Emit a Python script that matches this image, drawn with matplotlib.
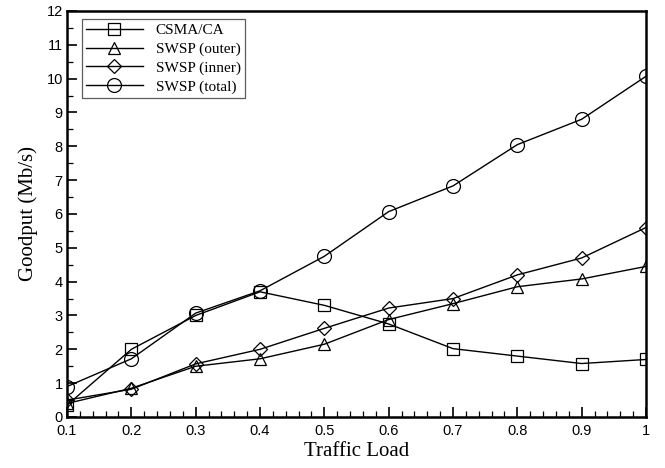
import matplotlib
matplotlib.use("Agg")
import matplotlib.pyplot as plt
from matplotlib.ticker import MultipleLocator

# dados
carga = [0.1, 0.2, 0.3, 0.4, 0.5, 0.6, 0.7, 0.8, 0.9, 1.0]
csma = [0.35, 2.0, 3.0, 3.7, 3.3, 2.75, 2.02, 1.8, 1.58, 1.7]
swsp_outer = [0.4, 0.85, 1.5, 1.72, 2.15, 2.88, 3.35, 3.85, 4.08, 4.45]
swsp_inner = [0.5, 0.82, 1.57, 2.0, 2.62, 3.22, 3.5, 4.2, 4.7, 5.6]
swsp_total = [0.9, 1.72, 3.07, 3.73, 4.75, 6.07, 6.83, 8.05, 8.8, 10.07]

x_ticks = [0.1, 0.2, 0.3, 0.4, 0.5, 0.6, 0.7, 0.8, 0.9, 1.0]
x_labels = ["0.1", "0.2", "0.3", "0.4", "0.5", "0.6", "0.7", "0.8", "0.9", "1"]

fig = plt.figure(figsize=(6.65, 4.68), dpi=100)
ax = fig.add_axes([0.1008, 0.109, 0.8706, 0.8675])

estilo = dict(color="black", linewidth=1.0, markerfacecolor="none",
              markeredgecolor="black", markeredgewidth=0.9)

ax.plot(carga, csma, marker="s", markersize=8, label="CSMA/CA", **estilo)
ax.plot(carga, swsp_outer, marker="^", markersize=9, label="SWSP (outer)", **estilo)
ax.plot(carga, swsp_inner, marker="D", markersize=7.5, label="SWSP (inner)", **estilo)
ax.plot(carga, swsp_total, marker="o", markersize=10, label="SWSP (total)", **estilo)

ax.set_xlim(0.1, 1.0)
ax.set_ylim(0, 12)
ax.set_xticks(x_ticks)
ax.set_xticklabels(x_labels)
ax.xaxis.set_minor_locator(MultipleLocator(0.02))
ax.yaxis.set_major_locator(MultipleLocator(1))
ax.yaxis.set_minor_locator(MultipleLocator(0.5))

ax.tick_params(which="both", direction="in", top=False, right=False,
               labelsize=10.5, pad=3)
ax.tick_params(axis="x", which="major", pad=5)
ax.tick_params(which="major", length=7, width=1.2)
ax.tick_params(which="minor", length=4, width=0.9)
for lbl in ax.get_xticklabels() + ax.get_yticklabels():
    lbl.set_family("Liberation Sans")

for s in ax.spines.values():
    s.set_linewidth(1.8)

ax.set_xlabel("Traffic Load", family="Liberation Serif", fontsize=15, labelpad=3)
ax.set_ylabel("Goodput (Mb/s)", family="Liberation Serif", fontsize=15, labelpad=6)

leg = ax.legend(loc="upper left", bbox_to_anchor=(0.025, 0.98),
                prop={"family": "Liberation Serif", "size": 11},
                frameon=True, fancybox=False, edgecolor="#333333",
                handlelength=3.7, borderaxespad=0, labelspacing=0.32,
                borderpad=0.3, handletextpad=0.85)
leg.get_frame().set_linewidth(0.9)

fig.savefig("out.png", dpi=100)
